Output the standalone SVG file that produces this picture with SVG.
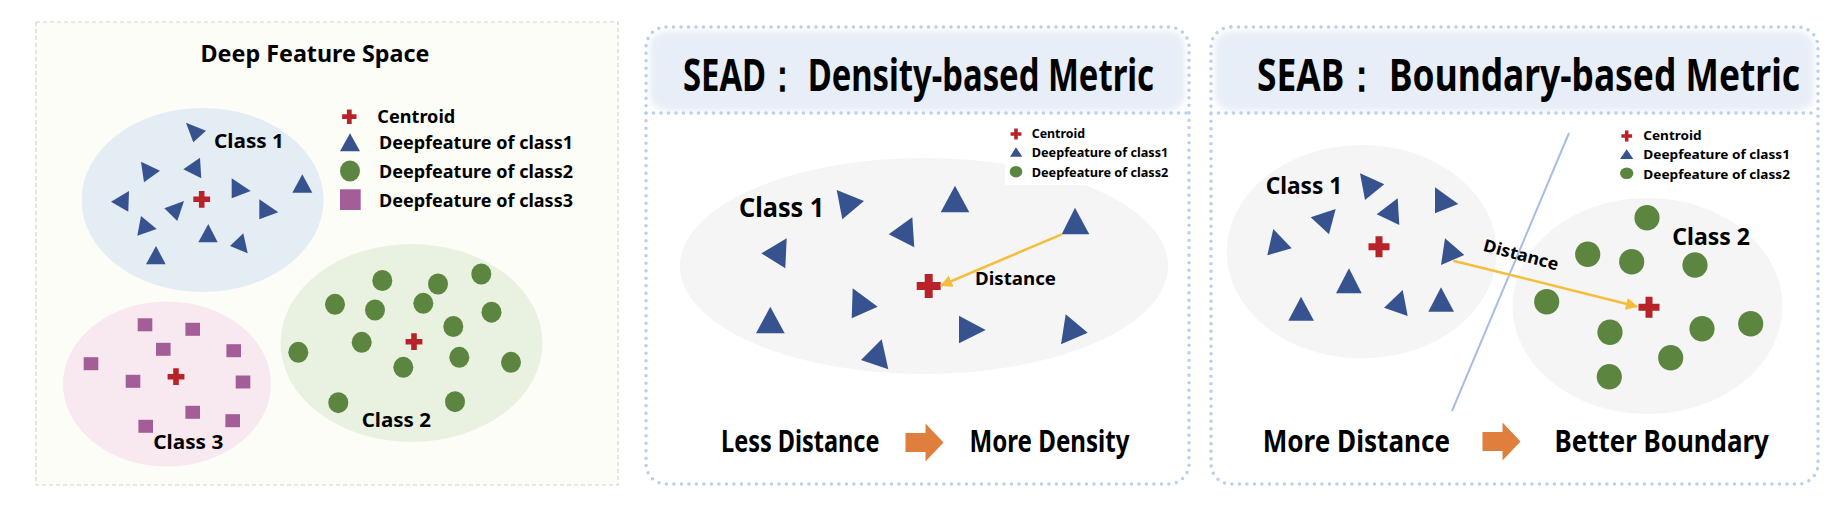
<svg xmlns="http://www.w3.org/2000/svg" xmlns:xlink="http://www.w3.org/1999/xlink" width="1842" height="514" viewBox="0 0 1842 514">
<style>
text{font-family:"Noto Sans","Liberation Sans",sans-serif;font-weight:bold;fill:#000}
.tri{fill:#37538f}
.dot{fill:#5c8540}
.sq{fill:#a35e98}
.dotted{fill:none;stroke:#b9cfea;stroke-width:3.5;stroke-linecap:round;stroke-dasharray:0 7.5}
.dist{fill:none;stroke:#f6bd3a;stroke-width:2.5}
.blk{fill:#e07f3d}
</style>
<defs>
<path id="plus" d="M-1,-3H1V-1H3V1H1V3H-1V1H-3V-1H-1Z" fill="#b8232a"/>
<path id="blockarrow" d="M0,-9.5H20V-19L38,0L20,19V9.5H0Z"/>
<marker id="ah" markerUnits="userSpaceOnUse" markerWidth="12" markerHeight="12" viewBox="0 0 12 12" refX="11" refY="6" orient="auto">
<path d="M0,0L12,6L0,12Z" fill="#f6bd3a"/>
</marker>
<filter id="soft" x="-5%" y="-20%" width="110%" height="140%"><feGaussianBlur stdDeviation="3"/></filter>
</defs>
<rect width="1842" height="514" fill="#fff"/>

<!-- Panel 1 -->
<g id="panel1">
<rect x="36" y="22" width="582" height="463" fill="#fdfdf8" stroke="#d2d2d2" stroke-width="1.2" stroke-dasharray="4 3"/>
<text x="315" y="62" font-size="23" text-anchor="middle" textLength="229" lengthAdjust="spacingAndGlyphs">Deep Feature Space</text>

<g id="p1-class1">
<ellipse cx="202.5" cy="200" rx="121" ry="92" fill="#e4ecf4"/>
<polygon class="tri" points="186,122.7 206,130.7 193.3,142.3"/>
<polygon class="tri" points="141,161.7 160,170.7 144,182.3"/>
<polygon class="tri" points="183.3,169.3 200,157.7 201.3,178.3"/>
<polygon class="tri" points="231.7,178.3 250.7,191 231.7,198.3"/>
<polygon class="tri" points="292.3,192.7 312.3,192.7 302.3,174.3"/>
<polygon class="tri" points="111,201.7 129,191 128.3,211.7"/>
<polygon class="tri" points="164.3,208.3 184,201 177.3,221"/>
<polygon class="tri" points="259.3,199.3 278.3,212.3 259.3,219.3"/>
<polygon class="tri" points="141,216 156.7,229 137.3,235.7"/>
<polygon class="tri" points="198.3,242.3 217.7,242.3 208.3,224"/>
<polygon class="tri" points="230,246 243.3,233.3 247.7,253.3"/>
<polygon class="tri" points="146,264.3 165.7,264.3 156,246"/>
<use href="#plus" transform="translate(201.7,199.3) scale(2.8)"/>
<text x="214" y="148.3" font-size="19" textLength="70" lengthAdjust="spacingAndGlyphs">Class 1</text>
</g>

<g id="p1-class3">
<ellipse cx="167" cy="384" rx="104" ry="82.5" fill="#f8e8ef"/>
<rect class="sq" x="137.7" y="318.3" width="14.6" height="13"/>
<rect class="sq" x="185.4" y="322.8" width="14.6" height="13"/>
<rect class="sq" x="156" y="342.8" width="14.6" height="13"/>
<rect class="sq" x="226.4" y="344.2" width="14.6" height="13"/>
<rect class="sq" x="83.7" y="357.2" width="14.6" height="13"/>
<rect class="sq" x="125.7" y="374.8" width="14.6" height="13"/>
<rect class="sq" x="235.7" y="375.5" width="14.6" height="13"/>
<rect class="sq" x="185.4" y="405.8" width="14.6" height="13"/>
<rect class="sq" x="225.4" y="414.2" width="14.6" height="13"/>
<rect class="sq" x="138.4" y="419.8" width="14.6" height="13"/>
<use href="#plus" transform="translate(176,376.7) scale(2.8)"/>
<text x="153.3" y="449" font-size="19" textLength="70" lengthAdjust="spacingAndGlyphs">Class 3</text>
</g>

<g id="p1-class2">
<ellipse cx="411.5" cy="343" rx="131" ry="99" fill="#e9f1e1"/>
<ellipse class="dot" cx="382.3" cy="280.5" rx="10" ry="10.5"/>
<ellipse class="dot" cx="438" cy="284" rx="10" ry="10.5"/>
<ellipse class="dot" cx="481.3" cy="274" rx="10" ry="10.5"/>
<ellipse class="dot" cx="335" cy="304.3" rx="10" ry="10.5"/>
<ellipse class="dot" cx="375" cy="310" rx="10" ry="10.5"/>
<ellipse class="dot" cx="423.3" cy="303.3" rx="10" ry="10.5"/>
<ellipse class="dot" cx="491.5" cy="312.2" rx="10" ry="10.5"/>
<ellipse class="dot" cx="453.3" cy="326.5" rx="10" ry="10.5"/>
<ellipse class="dot" cx="361.7" cy="342.3" rx="10" ry="10.5"/>
<ellipse class="dot" cx="298.3" cy="352.3" rx="10" ry="10.5"/>
<ellipse class="dot" cx="403.3" cy="367.3" rx="10" ry="10.5"/>
<ellipse class="dot" cx="459.3" cy="357.3" rx="10" ry="10.5"/>
<ellipse class="dot" cx="511" cy="362.3" rx="10" ry="10.5"/>
<ellipse class="dot" cx="338.3" cy="402.7" rx="10" ry="10.5"/>
<ellipse class="dot" cx="455" cy="401.7" rx="10" ry="10.5"/>
<use href="#plus" transform="translate(414,341.7) scale(2.8)"/>
<text x="361.7" y="426.7" font-size="19" textLength="69.3" lengthAdjust="spacingAndGlyphs">Class 2</text>
</g>

<g id="p1-legend">
<use href="#plus" transform="translate(349.3,116.7) scale(2.4)"/>
<text x="377.3" y="122.7" font-size="17" textLength="78" lengthAdjust="spacingAndGlyphs">Centroid</text>
<polygon class="tri" points="340,151.3 360,151.3 350,133.3"/>
<text x="379" y="149.3" font-size="17" textLength="194" lengthAdjust="spacingAndGlyphs">Deepfeature of class1</text>
<ellipse class="dot" cx="350" cy="171" rx="10" ry="10.5"/>
<text x="379" y="178.3" font-size="17" textLength="194" lengthAdjust="spacingAndGlyphs">Deepfeature of class2</text>
<rect class="sq" x="340" y="189.3" width="20.7" height="20.7"/>
<text x="379" y="207.3" font-size="17" textLength="194" lengthAdjust="spacingAndGlyphs">Deepfeature of class3</text>
</g>
</g>

<!-- Panel 2 -->
<g id="panel2">
<rect x="650" y="31" width="535" height="80" rx="16" fill="#e8eef7" filter="url(#soft)"/>
<rect class="dotted" x="646" y="27" width="543" height="457" rx="20"/>
<line class="dotted" x1="646" y1="113" x2="1189" y2="113"/>
<text transform="translate(683,90.8) scale(0.742,1)" font-size="45" textLength="634.8" lengthAdjust="spacingAndGlyphs">SEAD： Density-based Metric</text>

<g id="p2-class1">
<ellipse cx="924" cy="266" rx="244" ry="108" fill="#f5f5f5"/>
<rect x="1005" y="124" width="172" height="61" fill="#fff"/>
<polygon class="tri" points="836.7,190 864,201 842.3,219.3"/>
<polygon class="tri" points="940.7,212.3 969.3,212.3 955,185.7"/>
<polygon class="tri" points="888.7,234.3 912.3,217.3 914.3,247.3"/>
<polygon class="tri" points="761.3,253.3 786.7,238.3 785.3,268.3"/>
<polygon class="tri" points="852.7,288.3 877.7,306.7 851.7,318.3"/>
<polygon class="tri" points="756,333.3 784.7,333.3 770.3,306.7"/>
<polygon class="tri" points="861,360 881.7,339.3 888.3,369.3"/>
<polygon class="tri" points="1061.7,234.3 1089.3,234.3 1075,207.7"/>
<polygon class="tri" points="959,315.7 985.7,330 959,343.3"/>
<polygon class="tri" points="1065.7,314.3 1087.7,332.7 1061,344.3"/>
<use href="#plus" transform="translate(928.7,286) scale(4)"/>
<text x="739" y="217.3" font-size="27" textLength="85.3" lengthAdjust="spacingAndGlyphs">Class 1</text>
<text x="975" y="285" font-size="18" textLength="81" lengthAdjust="spacingAndGlyphs">Distance</text>
</g>

<g id="p2-legend">
<use href="#plus" transform="translate(1016,134) scale(1.8)"/>
<text x="1031.7" y="138.3" font-size="12.5" textLength="53.3" lengthAdjust="spacingAndGlyphs">Centroid</text>
<polygon class="tri" points="1010,156.7 1022.3,156.7 1016,147.3"/>
<text x="1031.7" y="157.3" font-size="12.5" textLength="136.7" lengthAdjust="spacingAndGlyphs">Deepfeature of class1</text>
<ellipse class="dot" cx="1016" cy="171.7" rx="6.3" ry="5.8"/>
<text x="1031.7" y="177.3" font-size="12.5" textLength="136.7" lengthAdjust="spacingAndGlyphs">Deepfeature of class2</text>
</g>

<g id="p2-bottom">
<text x="721" y="452" font-size="30" textLength="158.5" lengthAdjust="spacingAndGlyphs">Less Distance</text>
<use href="#blockarrow" class="blk" transform="translate(905.5,442.5)"/>
<text x="969.5" y="452" font-size="30" textLength="160" lengthAdjust="spacingAndGlyphs">More Density</text>
</g>
</g>

<!-- Panel 3 -->
<g id="panel3">
<rect x="1215" y="31" width="599" height="80" rx="16" fill="#e8eef7" filter="url(#soft)"/>
<rect class="dotted" x="1211" y="27" width="607" height="457" rx="20"/>
<line class="dotted" x1="1211" y1="113" x2="1818" y2="113"/>
<text transform="translate(1257,90.8) scale(0.8,1)" font-size="45" textLength="678.75" lengthAdjust="spacingAndGlyphs">SEAB： Boundary-based Metric</text>

<g id="p3-class1">
<ellipse cx="1361.7" cy="251.7" rx="135" ry="106.7" fill="#f5f5f5"/>
<polygon class="tri" points="1360,173.3 1384.3,184.3 1365,200"/>
<polygon class="tri" points="1435,187.3 1458.3,204 1435,213.3"/>
<polygon class="tri" points="1376.7,214.3 1397.7,198.3 1399.3,225"/>
<polygon class="tri" points="1310.7,217.3 1335.7,209 1329,234.3"/>
<polygon class="tri" points="1273.3,229 1291.7,248.3 1267.3,255.3"/>
<polygon class="tri" points="1445,238.3 1464.3,255 1441,265"/>
<polygon class="tri" points="1336,293.3 1361.7,293.3 1349,268.3"/>
<polygon class="tri" points="1288.3,320.7 1314,320.7 1301,296.7"/>
<polygon class="tri" points="1384,307.7 1402.7,290 1407.7,316"/>
<polygon class="tri" points="1428.3,311.7 1454,311.7 1441,287.3"/>
<use href="#plus" transform="translate(1379,246.7) scale(3.5)"/>
<text x="1265.7" y="194" font-size="24" textLength="76.6" lengthAdjust="spacingAndGlyphs">Class 1</text>
</g>

<g id="p3-class2">
<ellipse cx="1647.5" cy="306" rx="135" ry="108" fill="#f5f5f5"/>
<ellipse class="dot" cx="1647" cy="217.7" rx="12.6" ry="12.8"/>
<ellipse class="dot" cx="1587.7" cy="254.3" rx="12.6" ry="12.8"/>
<ellipse class="dot" cx="1631.7" cy="261.7" rx="12.6" ry="12.8"/>
<ellipse class="dot" cx="1695" cy="265" rx="12.6" ry="12.8"/>
<ellipse class="dot" cx="1546.7" cy="301.7" rx="12.6" ry="12.8"/>
<ellipse class="dot" cx="1610" cy="332.3" rx="12.6" ry="12.8"/>
<ellipse class="dot" cx="1702" cy="328.7" rx="12.6" ry="12.8"/>
<ellipse class="dot" cx="1750.7" cy="323.7" rx="12.6" ry="12.8"/>
<ellipse class="dot" cx="1670.7" cy="357.7" rx="12.6" ry="12.8"/>
<ellipse class="dot" cx="1609.3" cy="376.7" rx="12.6" ry="12.8"/>
<use href="#plus" transform="translate(1649,307.3) scale(3.5)"/>
<text x="1672.3" y="245" font-size="24" textLength="77.7" lengthAdjust="spacingAndGlyphs">Class 2</text>
</g>

<line id="boundary" x1="1569" y1="133" x2="1452" y2="411" stroke="#a9bde3" stroke-width="2"/>
<text transform="translate(1519.5,260.5) rotate(15)" text-anchor="middle" font-size="17" textLength="77" lengthAdjust="spacingAndGlyphs">Distance</text>

<g id="p3-legend">
<use href="#plus" transform="translate(1626.7,136) scale(1.8)"/>
<text x="1643.3" y="140" font-size="13" textLength="58.4" lengthAdjust="spacingAndGlyphs">Centroid</text>
<polygon class="tri" points="1620,159 1633.3,159 1626.7,149.3"/>
<text x="1643.3" y="159" font-size="13" textLength="146.7" lengthAdjust="spacingAndGlyphs">Deepfeature of class1</text>
<ellipse class="dot" cx="1626.7" cy="173.3" rx="6.7" ry="5.8"/>
<text x="1643.3" y="179.3" font-size="13" textLength="146.7" lengthAdjust="spacingAndGlyphs">Deepfeature of class2</text>
</g>

<g id="p3-bottom">
<text x="1262.7" y="452" font-size="30" textLength="187.3" lengthAdjust="spacingAndGlyphs">More Distance</text>
<use href="#blockarrow" class="blk" transform="translate(1482.5,441.5)"/>
<text x="1554.5" y="452" font-size="30" textLength="214.4" lengthAdjust="spacingAndGlyphs">Better Boundary</text>
</g>
</g>

<g id="connectors">
<line class="dist" x1="1061.7" y1="234.3" x2="941" y2="285.5" marker-end="url(#ah)"/>
<line class="dist" x1="1453.3" y1="260.7" x2="1637" y2="306.5" marker-end="url(#ah)"/>
</g>
</svg>
